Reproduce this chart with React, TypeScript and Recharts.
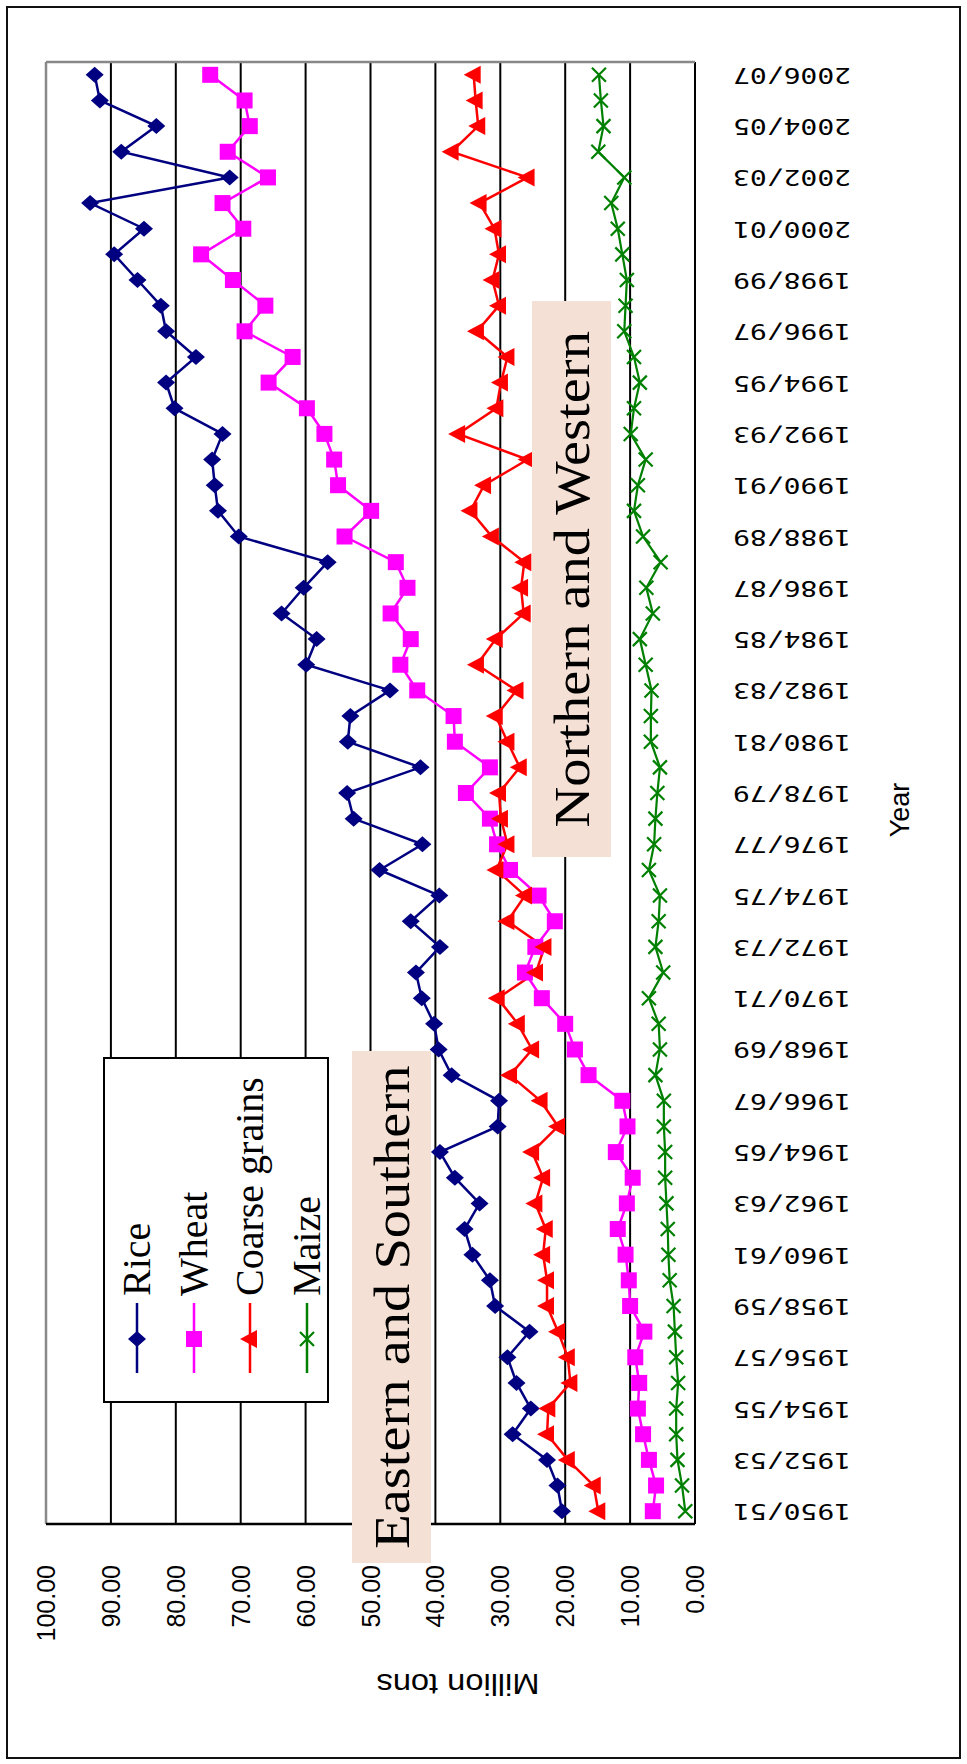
import { LineChart, Line, XAxis, YAxis, CartesianGrid, Legend, Label, ReferenceLine } from 'recharts';

// Excel chart that was pasted rotated: draw it upright, then turn the whole thing -90deg.
const categories = [
  '1950/51', '1951/52', '1952/53', '1953/54', '1954/55', '1955/56', '1956/57', '1957/58',
  '1958/59', '1959/60', '1960/61', '1961/62', '1962/63', '1963/64', '1964/65', '1965/66',
  '1966/67', '1967/68', '1968/69', '1969/70', '1970/71', '1971/72', '1972/73', '1973/74',
  '1974/75', '1975/76', '1976/77', '1977/78', '1978/79', '1979/80', '1980/81', '1981/82',
  '1982/83', '1983/84', '1984/85', '1985/86', '1986/87', '1987/88', '1988/89', '1989/90',
  '1990/91', '1991/92', '1992/93', '1993/94', '1994/95', '1995/96', '1996/97', '1997/98',
  '1998/99', '1999/00', '2000/01', '2001/02', '2002/03', '2003/04', '2004/05', '2005/06',
  '2006/07',
];

const rice = [
  20.5, 21.2, 22.8, 28.1, 25.3, 27.5, 28.9, 25.5, 30.8, 31.6, 34.3, 35.5, 33.2, 37.0, 39.3, 30.4,
  30.2, 37.5, 39.5, 40.2, 42.1, 43.0, 39.3, 43.8, 39.4, 48.6, 42.0, 52.6, 53.6, 42.3, 53.5, 53.1,
  47.0, 59.9, 58.3, 63.7, 60.3, 56.6, 70.3, 73.5, 74.0, 74.4, 72.8, 80.2, 81.5, 76.9, 81.5, 82.3,
  85.9, 89.5, 84.9, 93.2, 71.7, 88.4, 83.0, 91.7, 92.5,
];

const wheat = [
  6.5, 6.0, 7.1, 8.0, 8.8, 8.6, 9.2, 7.8, 10.0, 10.2, 10.7, 11.9, 10.5, 9.6, 12.2, 10.4,
  11.2, 16.4, 18.5, 20.0, 23.6, 26.2, 24.6, 21.6, 24.1, 28.5, 30.5, 31.6, 35.3, 31.6, 37.0, 37.2,
  42.8, 45.4, 43.8, 46.9, 44.3, 46.1, 54.0, 49.9, 55.0, 55.6, 57.1, 59.8, 65.7, 62.0, 69.4, 66.2,
  71.2, 76.1, 69.6, 72.8, 65.8, 72.0, 68.6, 69.4, 74.7,
];

const coarseGrains = [
  14.9, 15.6, 19.6, 22.8, 22.6, 19.2, 19.6, 21.1, 22.8, 22.8, 23.4, 23.0, 24.6, 23.4, 25.1, 21.1,
  23.8, 28.5, 25.1, 27.3, 30.4, 24.5, 23.2, 28.9, 26.2, 30.6, 28.9, 29.9, 30.2, 27.0, 28.9, 30.7,
  27.5, 33.6, 30.7, 26.4, 26.8, 26.3, 31.3, 34.6, 32.5, 25.8, 36.5, 30.6, 29.9, 28.9, 33.6, 30.2,
  31.2, 30.2, 30.9, 33.2, 25.8, 37.5, 33.4, 33.8, 34.1,
];

const maize = [
  1.5, 2.0, 2.7, 2.9, 2.9, 2.6, 2.9, 3.1, 3.3, 3.9, 4.1, 4.2, 4.4, 4.6, 4.6, 4.8,
  4.8, 6.1, 5.4, 5.6, 7.1, 4.9, 6.1, 5.6, 5.4, 7.1, 6.3, 6.1, 5.8, 5.4, 6.8, 6.8,
  6.7, 7.6, 8.5, 6.5, 7.5, 5.3, 8.0, 9.4, 8.8, 7.6, 9.9, 9.4, 8.5, 9.4, 10.9, 10.7,
  10.5, 11.2, 11.9, 12.9, 10.9, 14.9, 14.1, 14.5, 14.8,
];

const valueTicks = [0, 10, 20, 30, 40, 50, 60, 70, 80, 90, 100];

const seriesNames = ['Rice', 'Wheat', 'Coarse grains', 'Maize'];

const RICE = '#000080';
const WHEAT = '#FF00FF';
const COARSE = '#FF0000';
const MAIZE = '#008000';
const BEIGE = '#F4E0D4';
const SERIF = '"Liberation Serif", "Times New Roman", serif';
const SANS = '"Liberation Sans", Arial, sans-serif';

const W = 1764;
const H = 967;

const data = categories.map((cat, i) => ({
  idx: i,
  cat,
  rice: rice[i],
  wheat: wheat[i],
  coarse: coarseGrains[i],
  maize: maize[i],
}));

const labelTicks = categories.map((_, i) => i).filter((i) => i % 2 === 0);
const boundaryTicks = categories.map((_, i) => i - 0.5).concat(categories.length - 0.5);
const xDomain = [-0.5, categories.length - 0.5];

const diamond = (cx: number, cy: number, key?: string) => (
  <path key={key} d={`M${cx},${cy - 9}L${cx + 8},${cy}L${cx},${cy + 9}L${cx - 8},${cy}Z`} fill={RICE} />
);
const square = (cx: number, cy: number, key?: string) => (
  <rect key={key} x={cx - 8} y={cy - 8} width={16} height={16} fill={WHEAT} />
);
const triangle = (cx: number, cy: number, key?: string) => (
  <path key={key} d={`M${cx},${cy - 10}L${cx + 9},${cy + 7}L${cx - 9},${cy + 7}Z`} fill={COARSE} />
);
const cross = (cx: number, cy: number, key?: string) => (
  <path
    key={key}
    d={`M${cx - 7},${cy - 7}L${cx + 7},${cy + 7}M${cx + 7},${cy - 7}L${cx - 7},${cy + 7}`}
    stroke={MAIZE}
    strokeWidth={2.2}
    fill="none"
  />
);

const seriesColors = [RICE, WHEAT, COARSE, MAIZE];
const seriesMarkers = [diamond, square, triangle, cross];

const dotOf = (fn: typeof diamond, tag: string) => (p: any) => fn(p.cx, p.cy, `${tag}${p.index}`);

const CatTick = ({ x, y, payload }: any) => (
  <text
    x={x}
    y={y}
    transform={`rotate(-90 ${x} ${y})`}
    textAnchor="end"
    dominantBaseline="central"
    fontFamily='"DejaVu Sans Mono", monospace'
    fontSize={21}
    textLength={118}
    lengthAdjust="spacingAndGlyphs"
    fill="#000"
  >
    {categories[payload.value]}
  </text>
);

const ValueTick = ({ x, y, payload }: any) => (
  <text x={x} y={y} textAnchor="end" dominantBaseline="central" fontFamily={SANS} fontSize={25} fill="#000">
    {payload.value.toFixed(2)}
  </text>
);

// own order (Rice, Wheat, Coarse grains, Maize) instead of the sorted payload
const LegendBox = () => (
  <div
    style={{
      position: 'relative',
      width: 346,
      height: 226,
      boxSizing: 'border-box',
      border: '2px solid #000',
      background: '#fff',
    }}
  >
    {seriesNames.map((name, i) => (
      <div key={name} style={{ position: 'absolute', left: 0, top: 32 + i * 56.5 - 28, height: 56, width: 340 }}>
        <svg width={80} height={56} style={{ position: 'absolute', left: 26, top: 0 }}>
          <line x1={2} y1={28} x2={72} y2={28} stroke={seriesColors[i]} strokeWidth={2.5} />
          {seriesMarkers[i](36, 28)}
        </svg>
        <span
          style={{
            position: 'absolute',
            left: 105,
            top: 0,
            lineHeight: '56px',
            fontFamily: SERIF,
            fontSize: 40,
            whiteSpace: 'nowrap',
          }}
        >
          {name}
        </span>
      </div>
    ))}
  </div>
);

const noteStyle = (left: number, top: number, width: number) => ({
  position: 'absolute' as const,
  left,
  top,
  width,
  height: 79,
  background: BEIGE,
  display: 'flex',
  alignItems: 'center',
  justifyContent: 'center',
});

const noteText = {
  display: 'inline-block',
  fontFamily: SERIF,
  fontSize: 50,
  lineHeight: 1,
  whiteSpace: 'nowrap' as const,
  transform: 'scaleX(1.13)',
};

export default function App() {
  return (
    <div
      style={{
        position: 'absolute',
        left: 0,
        top: 0,
        width: W,
        height: H,
        background: '#fff',
        transformOrigin: '0 0',
        transform: `translate(0px, ${W}px) rotate(-90deg)`,
      }}
    >
      <style>{'body{margin:0;overflow:hidden}'}</style>
      <div
        style={{
          position: 'absolute',
          left: 5,
          top: 6,
          width: 1753,
          height: 955,
          boxSizing: 'border-box',
          border: '2px solid #111',
        }}
      />
      <LineChart width={W} height={H} data={data} margin={{ top: 46, right: 62, left: 140, bottom: 20 }}>
        <XAxis
          xAxisId="bnd"
          type="number"
          domain={xDomain}
          ticks={boundaryTicks}
          interval={0}
          mirror
          height={0}
          tickFormatter={() => ''}
          tickSize={6}
          tickLine={{ stroke: '#000', strokeWidth: 2 }}
          axisLine={{ stroke: '#000', strokeWidth: 2.5 }}
        />
        <XAxis
          dataKey="idx"
          type="number"
          domain={xDomain}
          ticks={labelTicks}
          interval={0}
          height={252}
          tickSize={0}
          tickMargin={38}
          tickLine={false}
          axisLine={false}
          tick={<CatTick />}
        >
          <Label
            content={() => (
              <text x={954} y={900} textAnchor="middle" dominantBaseline="central" fontFamily={SANS} fontSize={27}>
                Year
              </text>
            )}
          />
        </XAxis>
        <YAxis
          type="number"
          domain={[0, 100]}
          ticks={valueTicks}
          interval={0}
          width={100}
          tickSize={0}
          tickMargin={41}
          tickLine={false}
          axisLine={{ stroke: '#000', strokeWidth: 2.5 }}
          tick={<ValueTick />}
        >
          <Label
            content={() => (
              <text
                x={80}
                y={458}
                transform="rotate(-90 80 458)"
                textAnchor="middle"
                dominantBaseline="central"
                fontFamily={SANS}
                fontSize={29}
                textLength={163}
                lengthAdjust="spacingAndGlyphs"
              >
                Million tons
              </text>
            )}
          />
        </YAxis>
        <CartesianGrid vertical={false} stroke="#000" strokeWidth={2} />
        <ReferenceLine y={100} stroke="#888" strokeWidth={2.5} ifOverflow="visible" />
        <ReferenceLine x={categories.length - 0.5} stroke="#888" strokeWidth={2.5} ifOverflow="visible" />
        <Legend
          layout="vertical"
          align="center"
          verticalAlign="middle"
          content={<LegendBox />}
          wrapperStyle={{ left: 361, top: 103, width: 346, height: 226 }}
        />
        <Line
          dataKey="rice"
          name="Rice"
          stroke={RICE}
          strokeWidth={2.5}
          dot={dotOf(diamond, 'r')}
          activeDot={false}
          isAnimationActive={false}
        />
        <Line
          dataKey="wheat"
          name="Wheat"
          stroke={WHEAT}
          strokeWidth={2.5}
          dot={dotOf(square, 'w')}
          activeDot={false}
          isAnimationActive={false}
        />
        <Line
          dataKey="coarse"
          name="Coarse grains"
          stroke={COARSE}
          strokeWidth={2.5}
          dot={dotOf(triangle, 'c')}
          activeDot={false}
          isAnimationActive={false}
        />
        <Line
          dataKey="maize"
          name="Maize"
          stroke={MAIZE}
          strokeWidth={2.2}
          dot={dotOf(cross, 'm')}
          activeDot={false}
          isAnimationActive={false}
        />
      </LineChart>
      <div style={noteStyle(201, 352, 512)}>
        <span style={noteText}>Eastern and Southern</span>
      </div>
      <div style={noteStyle(907, 532, 556)}>
        <span style={noteText}>Northern and Western</span>
      </div>
    </div>
  );
}
